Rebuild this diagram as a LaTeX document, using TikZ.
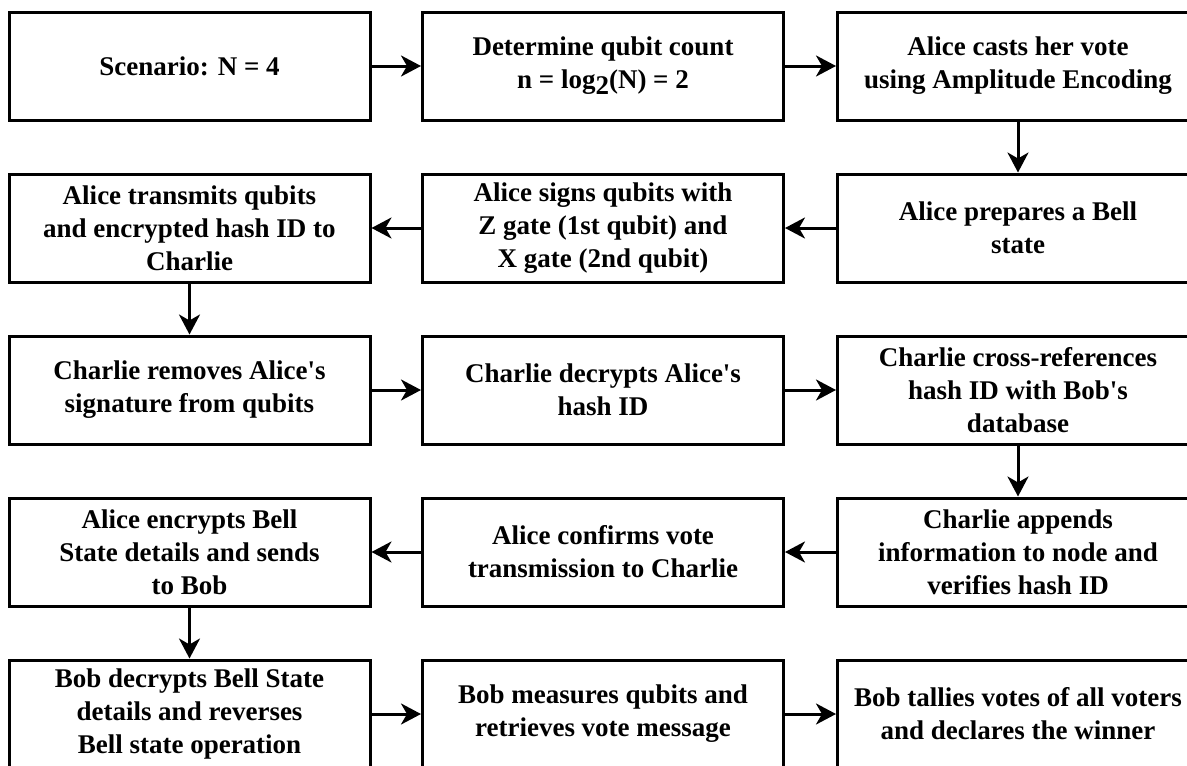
\documentclass[tikz,border=0pt]{standalone}
\usepackage{fontspec}
\setmainfont{Liberation Serif}
\usetikzlibrary{arrows.meta}
\newcommand{\apos}{\textquotesingle}
\begin{document}
\begin{tikzpicture}[x=1pt,y=-1pt,
  stepbox/.style={draw, line width=3pt, minimum width=361pt, minimum height=108pt,
    align=center, inner sep=0pt, font=\bfseries\fontsize{27}{33}\selectfont},
  flow/.style={-{Stealth[length=20pt,width=21pt,inset=6pt]}, line width=3pt}]
\clip (0,0) rectangle (1187,766);
\fill[white] (0,0) rectangle (1187,766);
% row 1
\node[stepbox] (a1) at (189.5,66) {Scenario: N = 4};
\node[stepbox] (a2) at (603,66) {Determine qubit count\\n = log\raisebox{-6pt}{2}(N) = 2};
\node[stepbox] (a3) at (1018,66) {Alice casts her vote\\using Amplitude Encoding};
% row 2
\node[stepbox] (b3) at (1018,228) {Alice prepares a Bell\\state};
\node[stepbox] (b2) at (603,228) {Alice signs qubits with\\Z gate (1st qubit) and\\X gate (2nd qubit)};
\node[stepbox] (b1) at (189.5,228) {Alice transmits qubits\\and encrypted hash ID to\\Charlie};
% row 3
\node[stepbox] (c1) at (189.5,390) {Charlie removes Alice\apos s\\signature from qubits};
\node[stepbox] (c2) at (603,390) {Charlie decrypts Alice\apos s\\hash ID};
\node[stepbox] (c3) at (1018,390) {Charlie cross-references\\hash ID with Bob\apos s\\database};
% row 4
\node[stepbox] (d3) at (1018,552) {Charlie appends\\information to node and\\verifies hash ID};
\node[stepbox] (d2) at (603,552) {Alice confirms vote\\transmission to Charlie};
\node[stepbox] (d1) at (189.5,552) {Alice encrypts Bell\\State details and sends\\to Bob};
% row 5
\node[stepbox] (e1) at (189.5,714) {Bob decrypts Bell State\\details and reverses\\Bell state operation};
\node[stepbox] (e2) at (603,714) {Bob measures qubits and\\retrieves vote message};
\node[stepbox] (e3) at (1018,714) {Bob tallies votes of all voters\\and declares the winner};
% connectors
\draw[flow] (a1) -- (a2);
\draw[flow] (a2) -- (a3);
\draw[flow] (a3) -- (b3);
\draw[flow] (b3) -- (b2);
\draw[flow] (b2) -- (b1);
\draw[flow] (b1) -- (c1);
\draw[flow] (c1) -- (c2);
\draw[flow] (c2) -- (c3);
\draw[flow] (c3) -- (d3);
\draw[flow] (d3) -- (d2);
\draw[flow] (d2) -- (d1);
\draw[flow] (d1) -- (e1);
\draw[flow] (e1) -- (e2);
\draw[flow] (e2) -- (e3);
\end{tikzpicture}
\end{document}
